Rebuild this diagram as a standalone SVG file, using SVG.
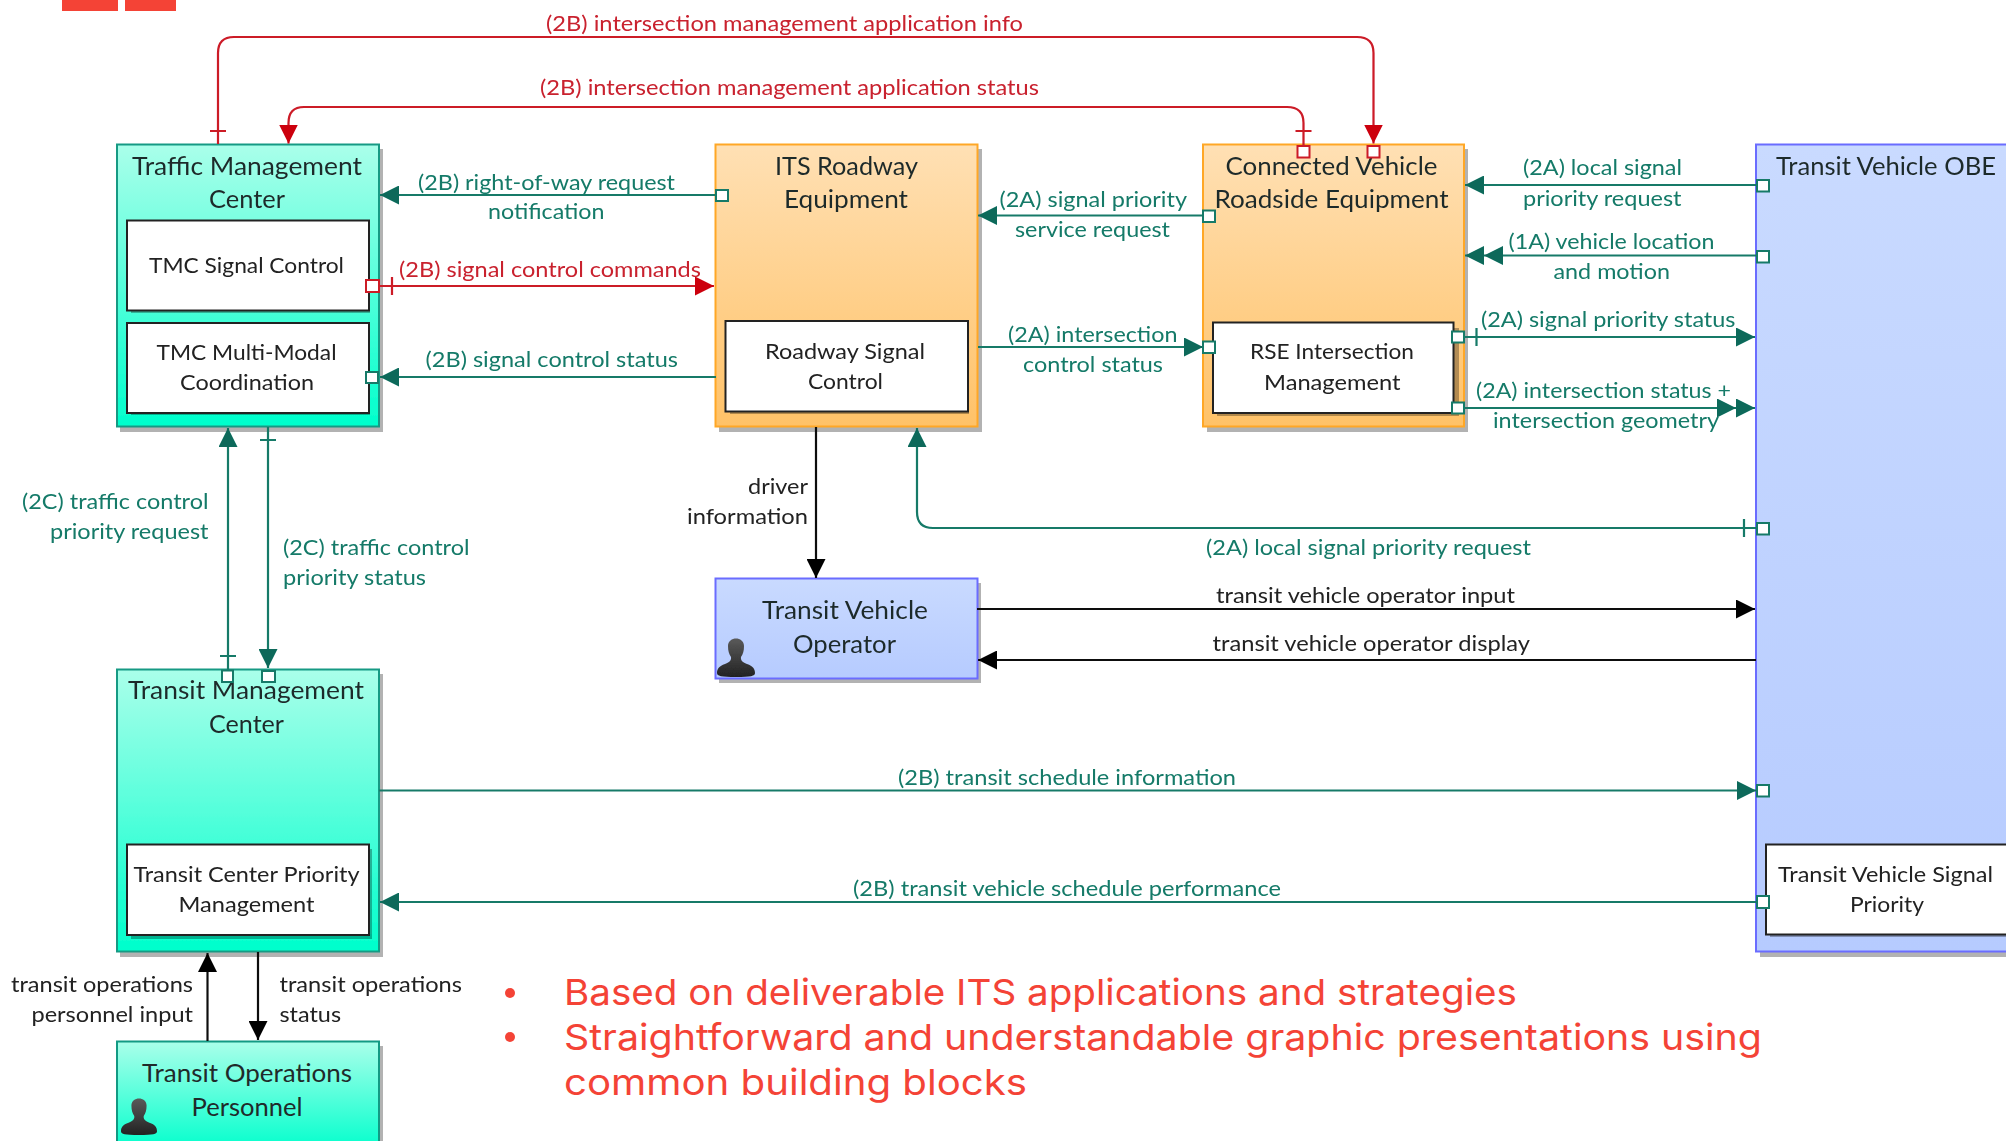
<svg xmlns="http://www.w3.org/2000/svg" width="2006" height="1141" viewBox="0 0 2006 1141">
<style>
text{font-family:"Lato","Open Sans","Liberation Sans",sans-serif}
.t{font-size:25px;fill:#1f2a2a}
.i{font-size:21px;fill:#222}
.g{font-size:20.5px;fill:#137a68}
.r{font-size:20.5px;fill:#c9202e}
.k{font-size:20.5px;fill:#222}
.b{font-family:"Inter","Open Sans","Liberation Sans",sans-serif;font-size:36px;fill:#f44336}
.box{stroke-width:2}
.sh{fill:#000;opacity:.3}
.in{fill:#fff;stroke:#222;stroke-width:2}
.cg,.cr,.ck{fill:none;stroke-width:2.200}
.cg{stroke:#137a68}.cr{stroke:#cc1a28}.ck{stroke:#111}
.pg,.pr{fill:#fff;stroke-width:2}
.pg{stroke:#137a68}.pr{stroke:#cc1a28}
</style>
<defs>
<filter id="soft" x="-2%" y="-2%" width="104%" height="104%"><feGaussianBlur stdDeviation="0.45"/></filter>
<linearGradient id="gt" x1="0" y1="0" x2="0" y2="1"><stop offset="0" stop-color="#aaffea"/><stop offset="1" stop-color="#00ffcc"/></linearGradient>
<linearGradient id="go" x1="0" y1="0" x2="0" y2="1"><stop offset="0" stop-color="#ffe0b4"/><stop offset="1" stop-color="#ffc268"/></linearGradient>
<linearGradient id="gb" x1="0" y1="0" x2="0" y2="1"><stop offset="0" stop-color="#c9daff"/><stop offset="1" stop-color="#b6cbff"/></linearGradient>
<linearGradient id="gp" x1="0" y1="0" x2="0" y2="1"><stop offset="0" stop-color="#5a5a5a"/><stop offset="1" stop-color="#222"/></linearGradient>
<marker id="ag" markerUnits="userSpaceOnUse" markerWidth="19" markerHeight="19" refX="19" refY="9.500" orient="auto"><path d="M0 0L19 9.500L0 19Z" fill="#07695a"/></marker>
<marker id="ar" markerUnits="userSpaceOnUse" markerWidth="19" markerHeight="19" refX="19" refY="9.500" orient="auto"><path d="M0 0L19 9.500L0 19Z" fill="#cc0010"/></marker>
<marker id="ak" markerUnits="userSpaceOnUse" markerWidth="19" markerHeight="19" refX="19" refY="9.500" orient="auto"><path d="M0 0L19 9.500L0 19Z" fill="#000"/></marker>
<marker id="ag2" markerUnits="userSpaceOnUse" markerWidth="38" markerHeight="19" refX="38" refY="9.500" orient="auto"><path d="M0 0L19 9.500L0 19ZM19 0L38 9.500L19 19Z" fill="#07695a"/></marker>
<symbol id="person" viewBox="0 0 38 39" overflow="visible"><path d="M11 8C11 -2 27 -2 27 8C27 13 26 16 24 19C23.500 22 25 24 30 26C36 28 38 31 38 35C38 38 34 39 19 39C4 39 0 38 0 35C0 31 2 28 8 26C13 24 14.500 22 14 19C12 16 11 13 11 8Z" fill="url(#gp)"/></symbol>
</defs>
<g id="top-bars" fill="#f44336"><rect x="62" y="0" width="56" height="11"/><rect x="125" y="0" width="51" height="11"/></g>

<g id="tmc" filter="url(#soft)">
<rect class="sh" x="120" y="149" width="263" height="283"/>
<rect class="box" x="117" y="144.500" width="262" height="282" fill="url(#gt)" stroke="#129a84"/>
<text class="t" x="132" y="175" textLength="230" lengthAdjust="spacingAndGlyphs">Traffic Management</text>
<text class="t" x="209" y="208" textLength="76" lengthAdjust="spacingAndGlyphs">Center</text>
<rect class="sh" x="131" y="225" width="239" height="88"/><rect class="in" x="127" y="220.500" width="242" height="90"/>
<text class="i" x="149" y="273" textLength="195" lengthAdjust="spacingAndGlyphs">TMC Signal Control</text>
<rect class="sh" x="131" y="328" width="239" height="87"/><rect class="in" x="127" y="323" width="242" height="90"/>
<text class="i" x="156.500" y="360" textLength="180" lengthAdjust="spacingAndGlyphs">TMC Multi-Modal</text>
<text class="i" x="180" y="390" textLength="134" lengthAdjust="spacingAndGlyphs">Coordination</text>
</g>
<g id="its" filter="url(#soft)">
<rect class="sh" x="719" y="149" width="263" height="283"/>
<rect class="box" x="715.500" y="144.500" width="262" height="282" fill="url(#go)" stroke="#ffa726"/>
<text class="t" x="775" y="175" textLength="143" lengthAdjust="spacingAndGlyphs">ITS Roadway</text>
<text class="t" x="784" y="208" textLength="124" lengthAdjust="spacingAndGlyphs">Equipment</text>
<rect class="sh" x="730" y="326" width="239" height="88"/><rect class="in" x="725.500" y="321" width="242.500" height="90.500"/>
<text class="i" x="765" y="359" textLength="160" lengthAdjust="spacingAndGlyphs">Roadway Signal</text>
<text class="i" x="808" y="389" textLength="75" lengthAdjust="spacingAndGlyphs">Control</text>
</g>
<g id="cvrse" filter="url(#soft)">
<rect class="sh" x="1207" y="149" width="261" height="283"/>
<rect class="box" x="1203" y="144.500" width="261" height="282" fill="url(#go)" stroke="#ffa726"/>
<text class="t" x="1225.500" y="175" textLength="212" lengthAdjust="spacingAndGlyphs">Connected Vehicle</text>
<text class="t" x="1214.500" y="208" textLength="234" lengthAdjust="spacingAndGlyphs">Roadside Equipment</text>
<rect class="sh" x="1217" y="328" width="242" height="88"/><rect class="in" x="1213" y="322.500" width="240.500" height="90.500"/>
<text class="i" x="1250" y="359" textLength="164" lengthAdjust="spacingAndGlyphs">RSE Intersection</text>
<text class="i" x="1264" y="390" textLength="136.500" lengthAdjust="spacingAndGlyphs">Management</text>
</g>
<g id="obe" filter="url(#soft)">
<rect class="sh" x="1760" y="149" width="260" height="808" opacity=".15"/>
<rect class="box" x="1756" y="144.500" width="270" height="807" fill="url(#gb)" stroke="#6a6cff"/>
<text class="t" x="1776" y="175" textLength="220" lengthAdjust="spacingAndGlyphs">Transit Vehicle OBE</text>
<rect class="sh" x="1770" y="849" width="250" height="88"/><rect class="in" x="1766" y="844.500" width="260" height="90"/>
<text class="i" x="1778" y="882" textLength="215" lengthAdjust="spacingAndGlyphs">Transit Vehicle Signal</text>
<text class="i" x="1850" y="912" textLength="74" lengthAdjust="spacingAndGlyphs">Priority</text>
</g>
<g id="operator" filter="url(#soft)">
<rect class="sh" x="719" y="583" width="262" height="100"/>
<rect class="box" x="715.500" y="578.500" width="262" height="100" fill="url(#gb)" stroke="#6a6cff"/>
<text class="t" x="762" y="619" textLength="166" lengthAdjust="spacingAndGlyphs">Transit Vehicle</text>
<text class="t" x="793" y="653" textLength="103" lengthAdjust="spacingAndGlyphs">Operator</text>
<use href="#person" x="717" y="638" width="38" height="39"/>
</g>
<g id="tmc2" filter="url(#soft)">
<rect class="sh" x="120" y="674" width="263" height="283"/>
<rect class="box" x="117" y="669.500" width="262" height="282" fill="url(#gt)" stroke="#129a84"/>
<text class="t" x="128" y="699" textLength="236" lengthAdjust="spacingAndGlyphs">Transit Management</text>
<text class="t" x="209" y="733" textLength="75" lengthAdjust="spacingAndGlyphs">Center</text>
<rect class="sh" x="131" y="849" width="241" height="90"/><rect class="in" x="127" y="844.500" width="242" height="90.500"/>
<text class="i" x="133.500" y="882" textLength="226" lengthAdjust="spacingAndGlyphs">Transit Center Priority</text>
<text class="i" x="178.500" y="912" textLength="136" lengthAdjust="spacingAndGlyphs">Management</text>
</g>
<g id="personnel">
<rect class="sh" x="120" y="1046" width="263" height="100"/>
<rect class="box" x="117" y="1041.500" width="262" height="110" fill="url(#gt)" stroke="#129a84"/>
<text class="t" x="142" y="1082" textLength="210" lengthAdjust="spacingAndGlyphs">Transit Operations</text>
<text class="t" x="191.500" y="1116" textLength="111" lengthAdjust="spacingAndGlyphs">Personnel</text>
<use href="#person" x="120" y="1098" width="38" height="37"/>
</g>

<g id="connectors" filter="url(#soft)">
<path class="cr" d="M218 144V53Q218 37 234 37H1357Q1373.500 37 1373.500 53V143.500" marker-end="url(#ar)"/>
<path class="cr" d="M1303.500 146V123Q1303.500 107 1287 107H304Q288.500 107 288.500 123V143.500" marker-end="url(#ar)"/>
<path class="cr" d="M210 131H226M1295.500 131H1311.500M392 277V295"/>
<path class="cr" d="M379 286H714" marker-end="url(#ar)"/>
<path class="cg" d="M716 195H380" marker-end="url(#ag)"/>
<path class="cg" d="M716 377H380" marker-end="url(#ag)"/>
<path class="cg" d="M1203 215.500H978" marker-end="url(#ag)"/>
<path class="cg" d="M978 347H1203" marker-end="url(#ag)"/>
<path class="cg" d="M1756 185H1465" marker-end="url(#ag)"/>
<path class="cg" d="M1756 255.500H1465" marker-end="url(#ag2)"/>
<path class="cg" d="M1464 337H1755" marker-end="url(#ag)"/>
<path class="cg" d="M1464 408H1755" marker-end="url(#ag2)"/>
<path class="cg" d="M1476.500 328V346M1744 519V537M260 440H276M220 656H236"/>
<path class="cg" d="M1756 528H933Q917 528 917 512V428" marker-end="url(#ag)"/>
<path class="cg" d="M228 670V428" marker-end="url(#ag)"/>
<path class="cg" d="M268 427V668" marker-end="url(#ag)"/>
<path class="cg" d="M379 790.500H1756" marker-end="url(#ag)"/>
<path class="cg" d="M1756 902H380" marker-end="url(#ag)"/>
<path class="ck" d="M816 427V578" marker-end="url(#ak)"/>
<path class="ck" d="M977 609H1755" marker-end="url(#ak)"/>
<path class="ck" d="M1756 660H978" marker-end="url(#ak)"/>
<path class="ck" d="M207.500 1041V953" marker-end="url(#ak)"/>
<path class="ck" d="M258 952V1040" marker-end="url(#ak)"/>
<rect class="pr" x="366" y="280" width="13" height="12"/>
<rect class="pr" x="1297.500" y="146" width="12" height="11.500"/>
<rect class="pr" x="1367.500" y="146" width="12" height="11.500"/>
<rect class="pg" x="716" y="190" width="12" height="11"/>
<rect class="pg" x="366" y="372" width="12" height="11"/>
<rect class="pg" x="1203" y="210.500" width="12" height="11.500"/>
<rect class="pg" x="1203" y="341.500" width="12" height="11.500"/>
<rect class="pg" x="1452" y="331.500" width="12" height="11"/>
<rect class="pg" x="1452" y="402.500" width="12" height="11"/>
<rect class="pg" x="1757" y="180" width="12" height="11.500"/>
<rect class="pg" x="1757" y="251" width="12" height="11.500"/>
<rect class="pg" x="1757" y="523" width="12" height="11.500"/>
<rect class="pg" x="1757" y="785" width="12" height="11.500"/>
<rect class="pg" x="1757" y="896" width="12" height="12"/>
<rect class="pg" x="222" y="670.500" width="11" height="11.500"/>
<rect class="pg" x="262" y="671" width="13" height="11"/>
</g>

<g id="labels" filter="url(#soft)">
<text class="r" x="546" y="31" textLength="477" lengthAdjust="spacingAndGlyphs">(2B) intersection management application info</text>
<text class="r" x="540" y="95" textLength="499" lengthAdjust="spacingAndGlyphs">(2B) intersection management application status</text>
<text class="g" x="418" y="189.500" textLength="257" lengthAdjust="spacingAndGlyphs">(2B) right-of-way request</text>
<text class="g" x="488" y="219" textLength="116.500" lengthAdjust="spacingAndGlyphs">notification</text>
<text class="r" x="399" y="277" textLength="302" lengthAdjust="spacingAndGlyphs">(2B) signal control commands</text>
<text class="g" x="425.500" y="367" textLength="252.500" lengthAdjust="spacingAndGlyphs">(2B) signal control status</text>
<text class="g" x="999.500" y="207" textLength="187.500" lengthAdjust="spacingAndGlyphs">(2A) signal priority</text>
<text class="g" x="1015" y="237" textLength="155" lengthAdjust="spacingAndGlyphs">service request</text>
<text class="g" x="1008" y="342" textLength="169.500" lengthAdjust="spacingAndGlyphs">(2A) intersection</text>
<text class="g" x="1023" y="372" textLength="140" lengthAdjust="spacingAndGlyphs">control status</text>
<text class="k" x="748" y="493.500" textLength="60" lengthAdjust="spacingAndGlyphs">driver</text>
<text class="k" x="687" y="523.500" textLength="121" lengthAdjust="spacingAndGlyphs">information</text>
<text class="g" x="1206" y="555" textLength="325" lengthAdjust="spacingAndGlyphs">(2A) local signal priority request</text>
<text class="g" x="1523" y="174.500" textLength="159" lengthAdjust="spacingAndGlyphs">(2A) local signal</text>
<text class="g" x="1523" y="205.500" textLength="158.500" lengthAdjust="spacingAndGlyphs">priority request</text>
<text class="g" x="1508.500" y="249" textLength="206" lengthAdjust="spacingAndGlyphs">(1A) vehicle location</text>
<text class="g" x="1553.500" y="279" textLength="116.500" lengthAdjust="spacingAndGlyphs">and motion</text>
<text class="g" x="1481" y="327" textLength="254.500" lengthAdjust="spacingAndGlyphs">(2A) signal priority status</text>
<text class="g" x="1476" y="398" textLength="255" lengthAdjust="spacingAndGlyphs">(2A) intersection status +</text>
<text class="g" x="1493" y="428" textLength="226" lengthAdjust="spacingAndGlyphs">intersection geometry</text>
<text class="g" x="22" y="509" textLength="186.500" lengthAdjust="spacingAndGlyphs">(2C) traffic control</text>
<text class="g" x="50" y="539" textLength="158.500" lengthAdjust="spacingAndGlyphs">priority request</text>
<text class="g" x="283" y="555" textLength="186.500" lengthAdjust="spacingAndGlyphs">(2C) traffic control</text>
<text class="g" x="283" y="585" textLength="143" lengthAdjust="spacingAndGlyphs">priority status</text>
<text class="k" x="1216" y="602.500" textLength="299" lengthAdjust="spacingAndGlyphs">transit vehicle operator input</text>
<text class="k" x="1212.500" y="651" textLength="317.500" lengthAdjust="spacingAndGlyphs">transit vehicle operator display</text>
<text class="g" x="898" y="785" textLength="338" lengthAdjust="spacingAndGlyphs">(2B) transit schedule information</text>
<text class="g" x="853" y="896" textLength="428" lengthAdjust="spacingAndGlyphs">(2B) transit vehicle schedule performance</text>
<text class="k" x="11" y="992" textLength="182" lengthAdjust="spacingAndGlyphs">transit operations</text>
<text class="k" x="31.500" y="1022" textLength="161.500" lengthAdjust="spacingAndGlyphs">personnel input</text>
<text class="k" x="279.500" y="992" textLength="182.500" lengthAdjust="spacingAndGlyphs">transit operations</text>
<text class="k" x="279.500" y="1022" textLength="61.500" lengthAdjust="spacingAndGlyphs">status</text>
</g>

<g id="notes">
<circle cx="510" cy="993" r="5" fill="#f44336"/><circle cx="510" cy="1037" r="5" fill="#f44336"/>
<text class="b" x="564" y="1005" textLength="953" lengthAdjust="spacingAndGlyphs">Based on deliverable ITS applications and strategies</text>
<text class="b" x="564" y="1050" textLength="1198" lengthAdjust="spacingAndGlyphs">Straightforward and understandable graphic presentations using</text>
<text class="b" x="564" y="1095" textLength="463" lengthAdjust="spacingAndGlyphs">common building blocks</text>
</g>
</svg>
